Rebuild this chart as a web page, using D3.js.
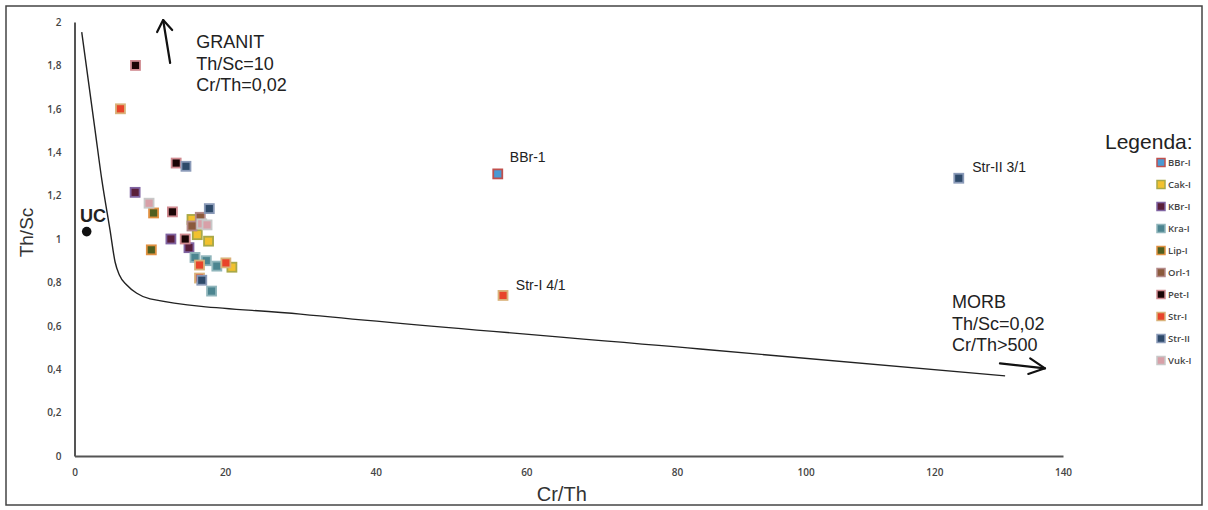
<!DOCTYPE html>
<html><head><meta charset="utf-8">
<script src="https://cdn.jsdelivr.net/npm/d3@7"></script>
<style>body{margin:0;background:#fff}svg{display:block}</style>
</head><body>
<svg id="c" width="1208" height="510"></svg>
<script>
// ---- data ----
const categories = ["BBr-I","Cak-I","KBr-I","Kra-I","Lip-I","Orl-1","Pet-I","Str-I","Str-II","Vuk-I"];
const bbrX = [56.2],                 bbrY = [1.30];
const cakX = [15.6, 16.3, 17.8, 20.9], cakY = [1.09, 1.02, 0.99, 0.87];
const kbrX = [8.05, 12.8, 15.2],     kbrY = [1.215, 1.00, 0.96];
const kraX = [16.0, 17.5, 18.9, 18.2], kraY = [0.915, 0.90, 0.875, 0.76];
const lipX = [10.5, 10.2],           lipY = [1.12, 0.95];
const orlX = [16.7, 15.6],           orlY = [1.10, 1.06];
const petX = [8.1, 13.5, 13.0, 14.7], petY = [1.80, 1.35, 1.125, 1.00];
const strIX = [6.1, 16.6, 20.1, 16.6, 56.9], strIY = [1.60, 0.88, 0.89, 0.82, 0.74];
const strIIX = [14.8, 17.9, 123.8, 16.9], strIIY = [1.335, 1.14, 1.28, 0.81];
const vukX = [9.9, 16.9, 17.6],      vukY = [1.165, 1.07, 1.065];
const fills   = ["#4a9ad4","#f2c12e","#5a1f3a","#4c8590","#4f5f20","#8b5a3c","#1a0505","#e8442a","#2e4a6a","#d8a0a8"];
const strokes = ["#c0504d","#a8a848","#8064a2","#8fb5bb","#e09040","#b48a8a","#d08a90","#d9b27a","#8a9ab8","#c8c8c8"];
const seriesX = [bbrX, cakX, kbrX, kraX, lipX, orlX, petX, strIX, strIIX, vukX];
const seriesY = [bbrY, cakY, kbrY, kraY, lipY, orlY, petY, strIY, strIIY, vukY];

const xTicks = [0, 20, 40, 60, 80, 100, 120, 140];
const yTicks = [0, 0.2, 0.4, 0.6, 0.8, 1, 1.2, 1.4, 1.6, 1.8, 2];

// boundary line (UC -> granite / MORB mixing)
const boundaryX = [0.96, 2.73, 3.63, 4.72, 5.39, 5.96, 6.94, 8.27, 10.04, 30.0, 83.6, 131.0];
const boundaryY = [1.953, 1.502, 1.272, 1.041, 0.894, 0.834, 0.788, 0.750, 0.724, 0.654, 0.493, 0.369];
const ucX = 1.62, ucY = 1.034;

const pointLabels = [
  {t:"BBr-1", x:57.8, y:1.378},
  {t:"Str-I 4/1", x:58.6, y:0.788},
  {t:"Str-II 3/1", x:125.9, y:1.332}
];
const granitLines = ["GRANIT","Th/Sc=10","Cr/Th=0,02"];
const morbLines = ["MORB","Th/Sc=0,02","Cr/Th>500"];

// ---- chart ----
const svg = d3.select("#c");
const x = d3.scaleLinear().domain([0,80,140]).range([74.5,677,1063]);
const y = d3.scaleLinear().domain([0,2]).range([456,22]);

svg.append("rect").attr("x",6).attr("y",6).attr("width",1196).attr("height",499)
  .attr("fill","#fff").attr("stroke","#444").attr("stroke-width",1.5);

const tickFont = "'Open Sans', 'DejaVu Sans', sans-serif";
const fmt = v => String(+v.toFixed(1)).replace(".", ",");

const gx = svg.append("g").attr("transform","translate(0,456)")
  .call(d3.axisBottom(x).tickValues(xTicks).tickSize(0).tickSizeOuter(0).tickPadding(13).tickFormat(d3.format("d")));
const gy = svg.append("g").attr("transform","translate(74.5,0)")
  .call(d3.axisLeft(y).tickValues(yTicks).tickSize(0).tickSizeOuter(0).tickPadding(13).tickFormat(fmt));
[gx, gy].forEach(g => {
  g.select(".domain").attr("stroke","#555").attr("stroke-width",2);
  g.selectAll("text").attr("font-family",tickFont).attr("font-size",10).attr("font-weight",600).attr("fill","#444");
});

svg.append("text").attr("transform",`translate(33,${y(1.03)}) rotate(-90)`)
  .attr("text-anchor","middle").attr("font-family","'Liberation Sans',Arial,sans-serif")
  .attr("font-size",19).attr("fill","#333").text("Th/Sc");
svg.append("text").attr("x",x(64.7)).attr("y",501)
  .attr("text-anchor","middle").attr("font-family","'Liberation Sans',Arial,sans-serif")
  .attr("font-size",20).attr("fill","#333").text("Cr/Th");

// boundary curve
const bpts = boundaryX.map((v,i)=>[v, boundaryY[i]]);
svg.append("path").datum(bpts)
  .attr("d", d3.line().x(d=>x(d[0])).y(d=>y(d[1])).curve(d3.curveMonotoneX))
  .attr("fill","none").attr("stroke","#222").attr("stroke-width",1.4);

// UC
svg.append("circle").attr("cx",x(ucX)).attr("cy",y(ucY)).attr("r",4.8).attr("fill","#111");
svg.append("text").attr("x",x(0.73)).attr("y",y(1.106)).attr("dy","0.35em")
  .attr("font-family","'Liberation Sans',Arial,sans-serif").attr("font-weight","bold")
  .attr("font-size",18).attr("fill","#222").text("UC");

// points
const allPts = [];
categories.forEach((c,i)=> seriesX[i].forEach((v,j)=> allPts.push({s:i, x:v, y:seriesY[i][j]})));
svg.append("g").selectAll("rect").data(allPts).join("rect")
  .attr("x", d=>x(d.x)-4.5).attr("y", d=>y(d.y)-4.5).attr("width",9).attr("height",9)
  .attr("fill", d=>fills[d.s]).attr("stroke", d=>strokes[d.s]).attr("stroke-width",1.8);

// point labels
svg.append("g").selectAll("text").data(pointLabels).join("text")
  .attr("x", d=>x(d.x)).attr("y", d=>y(d.y)).attr("dy","0.35em")
  .attr("font-family","'Liberation Sans',Arial,sans-serif").attr("font-size",14).attr("fill","#222")
  .text(d=>d.t);

// annotations
const annFont = "'Liberation Sans',Arial,sans-serif";
svg.append("g").selectAll("text").data(granitLines).join("text")
  .attr("x", x(16.16)).attr("y",(d,i)=>y(1.908 - i*0.0995)).attr("dy","0.35em")
  .attr("font-family",annFont).attr("font-size",18).attr("fill","#222").text(d=>d);
svg.append("g").selectAll("text").data(morbLines).join("text")
  .attr("x", x(122.75)).attr("y",(d,i)=>y(0.710 - i*0.0995)).attr("dy","0.35em")
  .attr("font-family",annFont).attr("font-size",18).attr("fill","#222").text(d=>d);

const arrow = (x1,y1,x2,y2,wa,wb) => {
  const g = svg.append("g").attr("stroke","#111").attr("stroke-width",2.2).attr("fill","none")
    .attr("stroke-linecap","round").attr("stroke-linejoin","round");
  g.append("line").attr("x1",x(x1)).attr("y1",y(y1)).attr("x2",x(x2)).attr("y2",y(y2));
  g.append("path").attr("d", d3.line()([[x(wa[0]),y(wa[1])],[x(x2),y(y2)],[x(wb[0]),y(wb[1])]]));
};
arrow(12.70, 1.811, 11.77, 2.009, [10.97,1.954], [12.97,1.963]);
arrow(130.2, 0.427, 137.2, 0.404, [134.9,0.450], [134.6,0.378]);

// legend
svg.append("text").attr("x",1105).attr("y",142).attr("dy","0.35em")
  .attr("font-family",annFont).attr("font-size",21).attr("fill","#222").text("Legenda:");
const lg = svg.append("g").selectAll("g").data(categories).join("g")
  .attr("transform",(d,i)=>`translate(1157,${162.5 + i*22})`);
lg.append("rect").attr("x",0).attr("y",-4).attr("width",8).attr("height",8)
  .attr("fill",(d,i)=>fills[i]).attr("stroke",(d,i)=>strokes[i]).attr("stroke-width",1.5);
lg.append("text").attr("x",11).attr("dy","0.35em").attr("font-family",tickFont)
  .attr("font-size",9.5).attr("font-weight",600).attr("fill","#444").text(d=>d);
</script>
</body></html>
